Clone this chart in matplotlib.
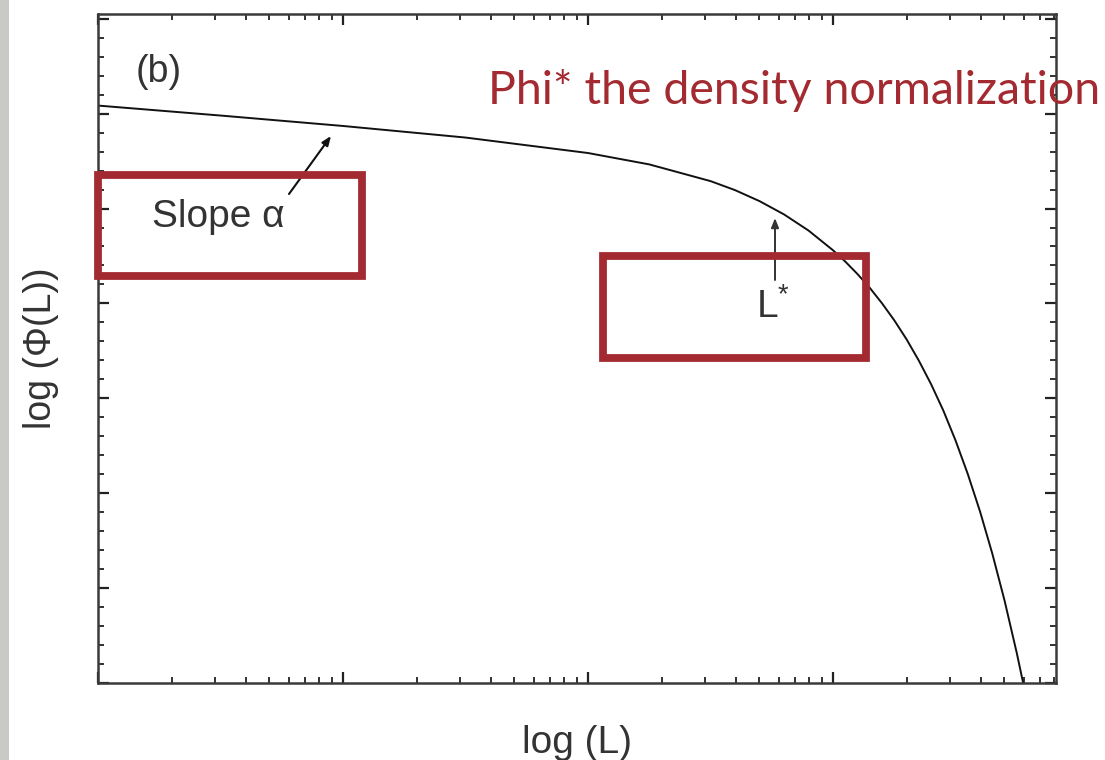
import matplotlib
matplotlib.use("Agg")
import matplotlib.pyplot as plt
from matplotlib.patches import Rectangle
from matplotlib.ticker import LogLocator, MultipleLocator, NullFormatter
import numpy as np

# Schechter-type luminosity function, sampled points (log L, log phi)
log_L = [0.0, 0.5, 1.0, 1.5, 2.0, 2.25, 2.5, 2.6, 2.7, 2.8, 2.9, 3.0, 3.05,
         3.1, 3.15, 3.2, 3.25, 3.3, 3.35, 3.4, 3.45, 3.5, 3.55, 3.6, 3.65,
         3.7, 3.75, 3.78]
log_phi = [-0.915, -1.020, -1.130, -1.252, -1.415, -1.535, -1.711, -1.806,
           -1.922, -2.062, -2.232, -2.440, -2.559, -2.691, -2.836, -2.999,
           -3.178, -3.378, -3.602, -3.850, -4.128, -4.444, -4.798, -5.193,
           -5.636, -6.131, -6.685, -7.049]

panel_tag = "(b)"
x_title = "log (L)"
y_title = "log (Φ(L))"
slope_label = "Slope α"
lstar_label = "L$^{*}$"
phi_note = "Phi* the density normalization"

W, H = 1105, 760
RED = "#A32A31"

plt.rcParams["font.family"] = ["Liberation Sans", "DejaVu Sans"]
plt.rcParams["mathtext.fontset"] = "custom"
plt.rcParams["mathtext.rm"] = "Liberation Sans"
plt.rcParams["mathtext.it"] = "Liberation Sans"

fig = plt.figure(figsize=(W / 100, H / 100), dpi=100)
fig.patch.set_facecolor("white")

# axes box in pixel terms
left, right, top, bottom = 98, 1056, 14, 683
ax = fig.add_axes([left / W, (H - bottom) / H, (right - left) / W, (bottom - top) / H])

ax.plot(10 ** np.array(log_L), log_phi, color="#111111", lw=1.4, solid_capstyle="butt")

ax.set_xscale("log")
ax.set_xlim(1, 10 ** 3.91)
ax.set_ylim(-7.0, 0.05)

ax.xaxis.set_major_locator(LogLocator(base=10, numticks=10))
ax.xaxis.set_minor_locator(LogLocator(base=10, subs=np.arange(2, 10), numticks=20))
ax.xaxis.set_major_formatter(NullFormatter())
ax.xaxis.set_minor_formatter(NullFormatter())
ax.yaxis.set_major_locator(MultipleLocator(1.0))
ax.yaxis.set_minor_locator(MultipleLocator(0.2))
ax.yaxis.set_major_formatter(NullFormatter())

ax.tick_params(which="both", direction="in", top=True, right=True,
               color="#222222", labelleft=False, labelbottom=False)
ax.tick_params(which="major", length=8, width=1.6)
ax.tick_params(which="minor", length=4.5, width=1.3)
for sp in ax.spines.values():
    sp.set_linewidth(1.8)
    sp.set_color("#3a3a3a")

ax.set_xlabel(x_title, fontsize=28, color="#333333", labelpad=30)
ax.set_ylabel(y_title, fontsize=27, color="#333333", labelpad=28)


def fpx(x, y):
    return (x, H - y)


arrow_style = "-|>,head_length=0.55,head_width=0.22"

# panel tag and annotations
fig.text(136 / W, 1 - 72 / H, panel_tag, fontsize=27, color="#333333",
         ha="left", va="center")
fig.text(152 / W, 1 - 217 / H, slope_label, fontsize=28, color="#333333",
         ha="left", va="center")
ax.annotate("", xy=fpx(331, 136), xycoords="figure pixels",
            xytext=fpx(289, 194), textcoords="figure pixels",
            arrowprops=dict(arrowstyle=arrow_style, color="#111111", lw=1.5,
                            shrinkA=0, shrinkB=0),
            annotation_clip=False)
ax.annotate("", xy=fpx(775, 218), xycoords="figure pixels",
            xytext=fpx(775, 280), textcoords="figure pixels",
            arrowprops=dict(arrowstyle=arrow_style, color="#333333", lw=1.4,
                            shrinkA=0, shrinkB=0),
            annotation_clip=False)
fig.text(756 / W, 1 - 307 / H, lstar_label, fontsize=28, color="#333333",
         ha="left", va="center")

fig.text(488 / W, 1 - 104 / H, phi_note, fontsize=33.5, color=RED,
         family=["Lato", "DejaVu Sans"], ha="left", va="baseline", zorder=12)

# highlight boxes
for (x0, y0, x1, y1) in [(98, 174.5, 361.5, 275.5), (603, 256, 866, 357.5)]:
    fig.patches.append(Rectangle((x0 / W, 1 - y1 / H), (x1 - x0) / W, (y1 - y0) / H,
                                 transform=fig.transFigure, fill=False,
                                 edgecolor=RED, lw=5.6, zorder=10))

# grey strip on the far left edge
fig.patches.append(Rectangle((0, 0), 9 / W, 1, transform=fig.transFigure,
                             facecolor="#c9c9c5", edgecolor="none", zorder=0))

fig.savefig("out.png", dpi=100)
